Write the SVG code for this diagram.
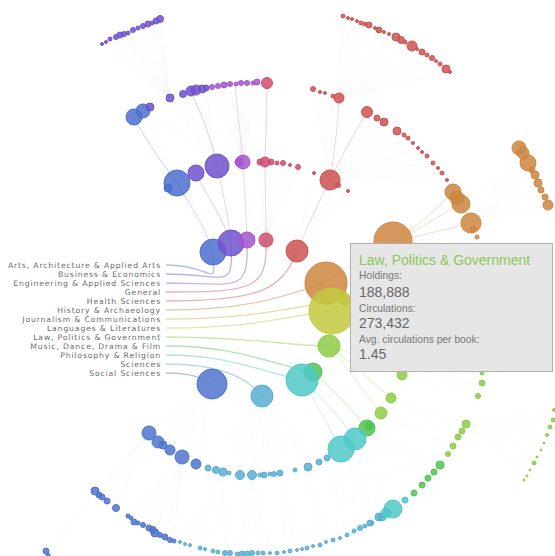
<svg xmlns="http://www.w3.org/2000/svg" width="555" height="556" viewBox="0 0 555 556">
<style>
text{font-family:"Liberation Sans",Arial,sans-serif}
.lbl{font-family:"DejaVu Sans",sans-serif;font-size:7.7px;letter-spacing:.85px;fill:#6a6a6a;text-anchor:end}
circle{fill-opacity:.85}
.fan{fill:none;stroke-width:.6;stroke-opacity:.08}
.lk{fill:none;stroke-width:1.1;stroke-opacity:.22}
.lb{fill:none;stroke-width:1.3;stroke-opacity:.45}
.c1{fill:#4e6fcf;stroke:#4e6fcf}
.c2{fill:#7052cc;stroke:#7052cc}
.c3{fill:#a455cc;stroke:#a455cc}
.c4{fill:#cc4f6e;stroke:#cc4f6e}
.c5{fill:#cc5252;stroke:#cc5252}
.c6{fill:#cc863f;stroke:#cc863f}
.c7{fill:#ccae40;stroke:#ccae40}
.c8{fill:#c3c940;stroke:#c3c940}
.c9{fill:#8ccc46;stroke:#8ccc46}
.c10{fill:#4fc44f;stroke:#4fc44f}
.c11{fill:#50c8c8;stroke:#50c8c8}
.c12{fill:#5aaed2;stroke:#5aaed2}
.c13{fill:#4f74cd;stroke:#4f74cd}
.tt{fill:#777;font-size:10.3px}
.tv{fill:#666;font-size:14px}
</style>
<rect width="555" height="556" fill="#fff"/>
<g id="connectors">
<path class="fan c2" style="fill:none" d="M170,98L102,44M170,98L106,42M170,98L110,39M170,98L116,37M170,98L120,35M170,98L124,34M170,98L128,33M170,98L133,30M170,98L138,28M170,98L143,26M170,98L148,24M170,98L152,23M170,98L156,21M170,98L160,19M217,166L150,107M217,166L170,98M217,166L183,94M217,166L191,91M217,166L196,90M217,166L202,89M217,166L206,88"/>
<path class="fan c1" style="fill:none" d="M177,183L134,117M177,183L143,111M213,252L177,183"/>
<path class="fan c3" style="fill:none" d="M243,162L212,87M243,162L218,86M243,162L224,85M243,162L230,84M243,162L236,84M243,162L241,83M243,162L247,83M243,162L253,83M243,162L257,82"/>
<path class="fan c4" style="fill:none" d="M265,162L267,83M266,240L260,162M266,240L271,162M266,240L277,163M266,240L283,163M266,240L290,165M266,240L298,167"/>
<path class="fan c5" style="fill:none" d="M339,98L343,16M339,98L352,19M339,98L361,23M339,98L369,25M339,98L379,30M339,98L389,34M339,98L396,37M339,98L405,42M339,98L412,46M339,98L422,52M339,98L432,58M339,98L440,64M339,98L446,69M339,98L450,72M330,180L313,89M330,180L320,92M330,180L325,93M330,180L333,96M330,180L367,112M330,180L377,118M330,180L384,122M330,180L397,131M330,180L408,138M330,180L418,148M330,180L427,156M330,180L433,163M330,180L442,173M330,180L447,180M297,251L314,173M297,251L338,185M297,251L348,191"/>
<path class="fan c6" style="fill:none" d="M471,223L519,148M471,223L523,153M471,223L528,163M471,223L532,170M471,223L535,175M471,223L538,183M471,223L541,190M471,223L545,197M471,223L548,205M461,204L519,148M461,204L528,163M393,241L473,229M393,241L477,237"/>
<path class="fan c9" style="fill:none" d="M402,375L482,373M402,375L482,383M402,375L478,396M391,398L466,424M391,398L462,431M391,398L458,437M381,413L453,446M381,413L448,454M466,424L554,410M466,424L553,420M466,424L550,427M466,424L547,435M466,424L544,443M466,424L541,450M466,424L537,457M466,424L534,463M466,424L530,470M466,424L527,476M466,424L524,480"/>
<path class="fan c10" style="fill:none" d="M367,428L440,465M367,428L434,472M367,428L428,478M367,428L422,485M367,428L414,493"/>
<path class="fan c11" style="fill:none" d="M355,439L405,500M355,439L393,509M341,449L386,513M341,449L382,517M341,449L372,523"/>
<path class="fan c12" style="fill:none" d="M262,396L208,468M262,396L216,470M262,396L223,472M262,396L229,473M262,396L240,475M262,396L252,475M262,396L264,475M262,396L274,474M262,396L280,473M262,396L295,470M262,396L308,467M262,396L319,462M262,396L327,458M223,472L180,542M223,472L190,545M223,472L200,548M223,472L213,551M223,472L225,553M252,475L237,554M252,475L247,554M252,475L258,553M252,475L270,553M280,473L284,552M280,473L297,550M280,473L307,548M308,467L320,545M308,467L333,540M327,458L347,535M327,458L360,528M327,458L370,523M327,458L379,517"/>
<path class="fan c13" style="fill:none" d="M212,384L149,433M212,384L158,442M212,384L163,445M212,384L170,450M212,384L182,457M212,384L196,464M149,433L95,491M149,433L99,495M149,433L107,501M149,433L116,508M149,433L46,551M182,457L128,516M182,457L134,522M182,457L143,525M182,457L149,528M182,457L155,533M182,457L165,537M182,457L170,540M182,457L174,541"/>
<path class="lk c1" style="fill:none" d="M213,252C205,225 190,205 177,183M177,183C160,160 145,140 134,117"/>
<path class="lk c2" style="fill:none" d="M231,243C228,210 222,190 217,166M231,243C220,210 205,195 196,173M217,166C210,130 198,110 191,91"/>
<path class="lk c3" style="fill:none" d="M247,240C246,210 244,185 243,162M243,162C240,130 237,110 235,84"/>
<path class="lk c4" style="fill:none" d="M266,240C266,210 265,185 265,162M265,162C266,130 267,110 267,83"/>
<path class="lk c5" style="fill:none" d="M297,251C308,225 320,200 330,180M330,180C335,150 338,125 339,98M330,180C345,150 355,130 367,112"/>
<path class="lk c6" style="fill:none" d="M326,283C350,265 370,250 393,241M393,241C420,225 440,205 453,192M393,241C420,230 440,215 461,204M393,241C425,235 450,228 471,223"/>
<path class="lk c9" style="fill:none" d="M329,346C360,355 385,365 402,375M329,346C355,365 375,385 391,398M329,346C350,370 365,395 381,413"/>
<path class="lk c10" style="fill:none" d="M313,372C335,390 352,410 367,428"/>
<path class="lk c11" style="fill:none" d="M302,380C318,405 330,430 341,449M302,380C325,400 342,420 355,439"/>
<path class="lk c8" style="fill:none" d="M332,311C380,315 420,318 460,320"/>
<path class="lb c1" style="fill:none" d="M166,265C215,265 216,292 213,252"/>
<path class="lb c2" style="fill:none" d="M166,274C225,274 234,292 231,243"/>
<path class="lb c3" style="fill:none" d="M166,283C238,283 249,295 247,240"/>
<path class="lb c4" style="fill:none" d="M166,292C252,292 268,290 266,240"/>
<path class="lb c5" style="fill:none" d="M166,301C260,301 282,290 297,251"/>
<path class="lb c6" style="fill:none" d="M166,310C260,310 292,292 326,283"/>
<path class="lb c7" style="fill:none" d="M166,319C260,319 300,305 345,300"/>
<path class="lb c8" style="fill:none" d="M166,328C260,328 290,315 332,311"/>
<path class="lb c9" style="fill:none" d="M166,337C250,337 290,346 329,346"/>
<path class="lb c10" style="fill:none" d="M166,346C240,346 272,365 313,372"/>
<path class="lb c11" style="fill:none" d="M166,355C230,355 262,372 302,380"/>
<path class="lb c12" style="fill:none" d="M166,364C220,364 248,378 262,396"/>
<path class="lb c13" style="fill:none" d="M166,373C190,373 200,377 212,384"/>
</g>
<g id="arts" class="c1" stroke="none">
<circle cx="213" cy="252" r="13"/><circle cx="177" cy="183" r="13"/><circle cx="168" cy="188" r="4"/><circle cx="134" cy="117" r="8"/><circle cx="143" cy="111" r="7"/>
</g>
<g id="business" class="c2" stroke="none">
<circle cx="231" cy="243" r="13"/><circle cx="196" cy="173" r="8"/><circle cx="217" cy="166" r="12"/>
<circle cx="150" cy="107" r="4"/><circle cx="170" cy="98" r="4"/><circle cx="183" cy="94" r="3.5"/><circle cx="191" cy="91" r="5"/><circle cx="196" cy="90" r="5"/><circle cx="202" cy="89" r="4"/><circle cx="206" cy="88" r="3"/>
<circle cx="102" cy="44" r="1.5"/><circle cx="106" cy="42" r="1.5"/><circle cx="110" cy="39" r="2"/><circle cx="116" cy="37" r="2.5"/><circle cx="120" cy="35" r="3"/><circle cx="124" cy="34" r="2.5"/><circle cx="128" cy="33" r="2"/><circle cx="133" cy="30" r="2.5"/><circle cx="138" cy="28" r="2"/><circle cx="143" cy="26" r="2.5"/><circle cx="148" cy="24" r="3"/><circle cx="152" cy="23" r="2"/><circle cx="156" cy="21" r="3"/><circle cx="160" cy="19" r="3.5"/>
</g>
<g id="engineering" class="c3" stroke="none">
<circle cx="247" cy="240" r="8"/><circle cx="243" cy="162" r="7"/><circle cx="239" cy="162" r="4"/>
<circle cx="212" cy="87" r="2.5"/><circle cx="218" cy="86" r="2.5"/><circle cx="224" cy="85" r="3"/><circle cx="230" cy="84" r="2.5"/><circle cx="236" cy="84" r="2"/><circle cx="241" cy="83" r="2.5"/><circle cx="247" cy="83" r="2.5"/><circle cx="253" cy="83" r="2"/><circle cx="257" cy="82" r="3"/>
</g>
<g id="general" class="c4" stroke="none">
<circle cx="266" cy="240" r="7"/><circle cx="265" cy="162" r="5"/><circle cx="260" cy="162" r="3"/><circle cx="271" cy="162" r="3"/><circle cx="277" cy="163" r="2"/><circle cx="283" cy="163" r="2.5"/><circle cx="290" cy="165" r="1.5"/><circle cx="298" cy="167" r="2.5"/><circle cx="267" cy="83" r="5.5"/>
</g>
<g id="health" class="c5" stroke="none">
<circle cx="297" cy="251" r="11"/><circle cx="330" cy="180" r="10"/><circle cx="338" cy="185" r="2.5"/><circle cx="314" cy="173" r="1.5"/><circle cx="348" cy="191" r="1.5"/>
<circle cx="339" cy="98" r="5"/><circle cx="333" cy="96" r="2"/><circle cx="325" cy="93" r="1.5"/><circle cx="320" cy="92" r="1.5"/><circle cx="313" cy="89" r="2.5"/>
<circle cx="367" cy="112" r="5.5"/><circle cx="377" cy="118" r="3"/><circle cx="384" cy="122" r="4"/><circle cx="397" cy="131" r="4"/><circle cx="404" cy="135" r="2"/><circle cx="408" cy="138" r="2"/><circle cx="413" cy="143" r="1.5"/><circle cx="418" cy="148" r="1.5"/><circle cx="422" cy="152" r="1.5"/><circle cx="427" cy="156" r="2"/><circle cx="433" cy="163" r="2"/><circle cx="438" cy="168" r="1.5"/><circle cx="442" cy="173" r="2"/><circle cx="447" cy="180" r="1.5"/>
<circle cx="343" cy="16" r="2"/><circle cx="348" cy="18" r="1.5"/><circle cx="352" cy="19" r="1.5"/><circle cx="357" cy="21" r="1.5"/><circle cx="361" cy="23" r="2"/><circle cx="365" cy="24" r="2"/><circle cx="369" cy="25" r="3"/><circle cx="375" cy="28" r="1.5"/><circle cx="379" cy="30" r="3"/><circle cx="384" cy="32" r="1.5"/><circle cx="389" cy="34" r="1.5"/><circle cx="396" cy="37" r="4"/><circle cx="401" cy="40" r="3.5"/><circle cx="405" cy="42" r="2"/><circle cx="412" cy="46" r="5"/><circle cx="417" cy="49" r="1.5"/><circle cx="422" cy="52" r="3"/><circle cx="427" cy="55" r="2"/><circle cx="432" cy="58" r="2.5"/><circle cx="436" cy="61" r="1.5"/><circle cx="440" cy="64" r="2"/><circle cx="446" cy="69" r="4"/><circle cx="450" cy="72" r="1.5"/>
</g>
<g id="history" class="c6" stroke="none">
<circle cx="326" cy="283" r="21"/><circle cx="393" cy="241" r="19"/>
<circle cx="453" cy="192" r="8"/><circle cx="457" cy="198" r="7"/><circle cx="461" cy="204" r="9"/><circle cx="471" cy="223" r="10"/><circle cx="473" cy="229" r="3"/><circle cx="477" cy="237" r="2"/>
<circle cx="519" cy="148" r="7"/><circle cx="523" cy="153" r="6"/><circle cx="528" cy="163" r="8"/><circle cx="532" cy="170" r="3"/><circle cx="535" cy="175" r="4"/><circle cx="538" cy="183" r="4"/><circle cx="541" cy="190" r="3"/><circle cx="545" cy="197" r="3"/><circle cx="548" cy="205" r="5"/>
</g>
<g id="journalism" class="c7" stroke="none">
<circle cx="345" cy="300" r="6"/>
</g>
<g id="languages" class="c8" stroke="none">
<circle cx="332" cy="311" r="23"/>
</g>
<g id="law" class="c9" stroke="none">
<circle cx="329" cy="346" r="11"/><circle cx="402" cy="375" r="5"/><circle cx="391" cy="398" r="5"/><circle cx="381" cy="413" r="6"/>
<circle cx="482" cy="373" r="2"/><circle cx="482" cy="383" r="3"/><circle cx="478" cy="396" r="2.5"/><circle cx="466" cy="424" r="4"/><circle cx="462" cy="431" r="3"/><circle cx="458" cy="437" r="3"/><circle cx="453" cy="446" r="3"/><circle cx="448" cy="454" r="2.5"/>
<circle cx="554" cy="410" r="1.5"/><circle cx="553" cy="420" r="2"/><circle cx="550" cy="427" r="2"/><circle cx="547" cy="435" r="1.5"/><circle cx="544" cy="443" r="1"/><circle cx="541" cy="450" r="1"/><circle cx="537" cy="457" r="1"/><circle cx="534" cy="463" r="2"/><circle cx="530" cy="470" r="1"/><circle cx="527" cy="476" r="1"/><circle cx="524" cy="480" r="1"/>
</g>
<g id="music" class="c10" stroke="none">
<circle cx="313" cy="372" r="9"/><circle cx="367" cy="428" r="8"/><circle cx="369" cy="426" r="4"/>
<circle cx="440" cy="465" r="4"/><circle cx="434" cy="472" r="3"/><circle cx="428" cy="478" r="3"/><circle cx="422" cy="485" r="3"/><circle cx="414" cy="493" r="3"/>
</g>
<g id="philosophy" class="c11" stroke="none">
<circle cx="302" cy="380" r="16"/><circle cx="341" cy="449" r="13"/><circle cx="355" cy="439" r="11"/>
<circle cx="405" cy="500" r="3"/><circle cx="393" cy="509" r="9"/><circle cx="386" cy="513" r="5"/><circle cx="382" cy="517" r="4"/><circle cx="372" cy="523" r="2"/>
</g>
<g id="sciences" class="c12" stroke="none">
<circle cx="262" cy="396" r="11"/>
<circle cx="208" cy="468" r="3"/><circle cx="216" cy="470" r="3.5"/><circle cx="223" cy="472" r="4"/><circle cx="229" cy="473" r="2"/><circle cx="240" cy="475" r="4.5"/><circle cx="252" cy="475" r="4.5"/><circle cx="260" cy="475" r="2"/><circle cx="264" cy="475" r="3"/><circle cx="270" cy="474" r="2"/><circle cx="274" cy="474" r="2.5"/><circle cx="280" cy="473" r="3"/><circle cx="295" cy="470" r="2"/><circle cx="308" cy="467" r="4"/><circle cx="319" cy="462" r="3"/><circle cx="327" cy="458" r="3"/>
<circle cx="180" cy="542" r="1.5"/><circle cx="185" cy="544" r="1.5"/><circle cx="190" cy="545" r="1.5"/><circle cx="200" cy="548" r="2"/><circle cx="205" cy="549" r="1.5"/><circle cx="213" cy="551" r="2"/><circle cx="218" cy="552" r="2"/><circle cx="225" cy="553" r="2.5"/><circle cx="230" cy="553" r="2.5"/><circle cx="237" cy="554" r="2"/><circle cx="242" cy="554" r="3"/><circle cx="247" cy="554" r="3"/><circle cx="252" cy="553" r="2.5"/><circle cx="258" cy="553" r="2"/><circle cx="263" cy="553" r="2"/><circle cx="270" cy="553" r="1.5"/><circle cx="277" cy="553" r="2"/><circle cx="284" cy="552" r="1.5"/><circle cx="290" cy="551" r="2"/><circle cx="297" cy="550" r="1.5"/><circle cx="302" cy="549" r="1.5"/><circle cx="307" cy="548" r="2"/><circle cx="313" cy="546" r="1.5"/><circle cx="320" cy="545" r="2"/><circle cx="326" cy="542" r="1.5"/><circle cx="333" cy="540" r="2"/><circle cx="340" cy="538" r="1.5"/><circle cx="347" cy="535" r="2"/><circle cx="354" cy="531" r="2"/><circle cx="360" cy="528" r="2.5"/><circle cx="365" cy="526" r="2"/><circle cx="370" cy="523" r="3"/><circle cx="379" cy="517" r="4"/>
</g>
<g id="social" class="c13" stroke="none">
<circle cx="212" cy="384" r="15"/>
<circle cx="149" cy="433" r="7"/><circle cx="158" cy="442" r="6"/><circle cx="163" cy="445" r="4"/><circle cx="170" cy="450" r="5"/><circle cx="182" cy="457" r="7"/><circle cx="196" cy="464" r="5"/>
<circle cx="95" cy="491" r="4"/><circle cx="99" cy="495" r="3"/><circle cx="102" cy="497" r="3"/><circle cx="107" cy="501" r="3"/><circle cx="116" cy="508" r="3.5"/><circle cx="128" cy="516" r="2"/><circle cx="131" cy="518" r="2"/><circle cx="134" cy="522" r="3"/><circle cx="138" cy="523" r="2"/><circle cx="143" cy="525" r="2.5"/><circle cx="149" cy="528" r="3"/><circle cx="153" cy="530" r="3.5"/><circle cx="155" cy="533" r="4"/><circle cx="160" cy="535" r="2.5"/><circle cx="165" cy="537" r="3"/><circle cx="170" cy="540" r="2.5"/><circle cx="174" cy="541" r="2"/><circle cx="46" cy="551" r="3"/><circle cx="48" cy="555" r="2"/>
</g>
<g id="labels">
<text class="lbl" x="161" y="268">Arts, Architecture &amp; Applied Arts</text>
<text class="lbl" x="161" y="277">Business &amp; Economics</text>
<text class="lbl" x="161" y="286">Engineering &amp; Applied Sciences</text>
<text class="lbl" x="161" y="295">General</text>
<text class="lbl" x="161" y="304">Health Sciences</text>
<text class="lbl" x="161" y="313">History &amp; Archaeology</text>
<text class="lbl" x="161" y="322">Journalism &amp; Communications</text>
<text class="lbl" x="161" y="331">Languages &amp; Literatures</text>
<text class="lbl" x="161" y="340">Law, Politics &amp; Government</text>
<text class="lbl" x="161" y="349">Music, Dance, Drama &amp; Film</text>
<text class="lbl" x="161" y="358">Philosophy &amp; Religion</text>
<text class="lbl" x="161" y="367">Sciences</text>
<text class="lbl" x="161" y="376">Social Sciences</text>
</g>
<g id="tooltip">
<rect x="350.5" y="243.5" width="202" height="128" fill="#e6e6e6" stroke="#b0b0b0"/>
<text x="359" y="265" font-size="14" fill="#8cc65a">Law, Politics &amp; Government</text>
<text class="tt" x="359" y="279">Holdings:</text>
<text class="tv" x="359" y="297">188,888</text>
<text class="tt" x="359" y="312">Circulations:</text>
<text class="tv" x="359" y="328">273,432</text>
<text class="tt" x="359" y="343">Avg. circulations per book:</text>
<text class="tv" x="359" y="359">1.45</text>
</g>
</svg>
